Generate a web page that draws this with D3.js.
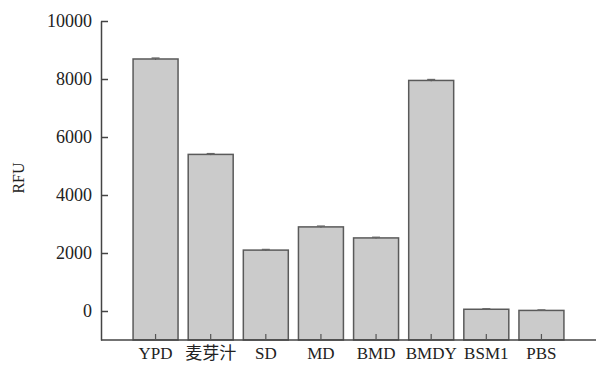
<!DOCTYPE html>
<html>
<head>
<meta charset="utf-8">
<script src="https://cdn.jsdelivr.net/npm/d3@7"></script>
<style>
  body { margin: 0; background: #fff; }
  text { font-family: "Liberation Serif", "Noto Sans CJK SC", serif; fill: #222; }
</style>
</head>
<body>
<svg id="chart" width="596" height="365"></svg>
<script>
// data
var categories = ["YPD", "麦芽汁", "SD", "MD", "BMD", "BMDY", "BSM1", "PBS"];
var rfu = [8690, 5400, 2100, 2900, 2520, 7950, 60, 20];
var rfuErr = [30, 25, 20, 25, 20, 30, 15, 15];
var yTicks = [0, 2000, 4000, 6000, 8000, 10000];

var svg = d3.select("#chart");

var x = d3.scaleBand()
  .domain(categories)
  .range([128, 569])
  .paddingInner(0.184)
  .paddingOuter(0.092);

var y = d3.scaleLinear()
  .domain([-1000, 10000])
  .range([340, 21]);

// bars
svg.selectAll("rect.bar")
  .data(categories)
  .join("rect")
  .attr("class", "bar")
  .attr("x", function(d) { return x(d); })
  .attr("width", x.bandwidth())
  .attr("y", function(d, i) { return y(rfu[i]); })
  .attr("height", function(d, i) { return y(-1000) - y(rfu[i]); })
  .style("fill", "#cbcbcb")
  .style("stroke", "#5a5a5a")
  .style("stroke-width", 1.5);

// error bars (tiny)
svg.selectAll("g.err")
  .data(categories)
  .join("g")
  .attr("class", "err")
  .each(function(d, i) {
    var cx = x(d) + x.bandwidth() / 2;
    var g = d3.select(this);
    g.append("line")
      .attr("x1", cx).attr("x2", cx)
      .attr("y1", y(rfu[i] + rfuErr[i])).attr("y2", y(rfu[i] - rfuErr[i]))
      .style("stroke", "#555").style("stroke-width", 1);
    g.append("line")
      .attr("x1", cx - 4).attr("x2", cx + 4)
      .attr("y1", y(rfu[i] + rfuErr[i])).attr("y2", y(rfu[i] + rfuErr[i]))
      .style("stroke", "#666").style("stroke-width", 1.5);
  });

// y axis
var yAxis = svg.append("g")
  .attr("transform", "translate(101,0)")
  .call(d3.axisLeft(y).tickValues(yTicks).tickFormat(d3.format("d"))
    .tickSize(-7).tickPadding(9).tickSizeOuter(0));
yAxis.select(".domain").style("stroke", "#444").style("stroke-width", 1.5);
yAxis.selectAll(".tick line").style("stroke", "#444").style("stroke-width", 1.5);
yAxis.selectAll(".tick text").style("font-size", "18px").style("fill", "#222");

// x axis
var xAxis = svg.append("g")
  .attr("transform", "translate(0,340)")
  .call(d3.axisBottom(x).tickSize(-6).tickPadding(7).tickSizeOuter(0));
xAxis.select(".domain").attr("d", "M101,0H596").style("stroke", "#444").style("stroke-width", 1.5);
xAxis.selectAll(".tick line").style("stroke", "#555").style("stroke-width", 1.2);
xAxis.selectAll(".tick text").style("font-size", "17px").style("fill", "#222");

// y label
svg.append("text")
  .attr("transform", "translate(24,178) rotate(-90)")
  .attr("text-anchor", "middle")
  .style("font-size", "16px")
  .text("RFU");
</script>
</body>
</html>
